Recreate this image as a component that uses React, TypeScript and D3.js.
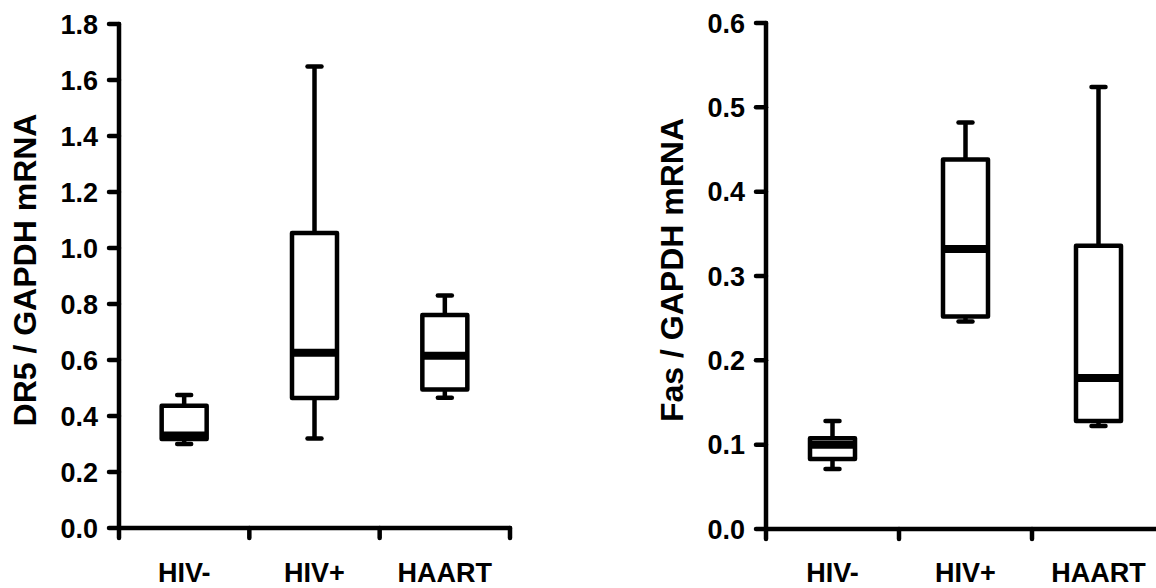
import React, { useEffect, useRef } from 'react';
import * as d3 from 'd3';

const categories = ['HIV-', 'HIV+', 'HAART'];

// DR5 / GAPDH panel: whisker low, Q1, median, Q3, whisker high
const dr5Min = [0.3, 0.32, 0.465];
const dr5Q1 = [0.318, 0.464, 0.495];
const dr5Median = [0.33, 0.626, 0.615];
const dr5Q3 = [0.437, 1.054, 0.761];
const dr5Max = [0.475, 1.648, 0.83];
const dr5Ticks = [0, 0.2, 0.4, 0.6, 0.8, 1.0, 1.2, 1.4, 1.6, 1.8];

// Fas / GAPDH panel
const fasMin = [0.071, 0.246, 0.122];
const fasQ1 = [0.083, 0.252, 0.128];
const fasMedian = [0.1, 0.332, 0.179];
const fasQ3 = [0.1076, 0.438, 0.336];
const fasMax = [0.128, 0.482, 0.524];
const fasTicks = [0, 0.1, 0.2, 0.3, 0.4, 0.5, 0.6];

interface Panel {
  label: string;
  mins: number[];
  q1s: number[];
  medians: number[];
  q3s: number[];
  maxs: number[];
  ticks: number[];
  yMax: number;
  x0: number;
  x1: number;
  yTop: number;
  yBottom: number;
  labelX: number;
}

const FONT = '"Liberation Sans", Arial, Helvetica, sans-serif';

function drawPanel(svg: d3.Selection<SVGSVGElement, unknown, null, undefined>, p: Panel) {
  const g = svg.append('g');
  const y = d3.scaleLinear().domain([0, p.yMax]).range([p.yBottom, p.yTop]);
  const x = d3.scaleBand<string>().domain(categories).range([p.x0, p.x1]);
  const boxW = 45;
  const sw = 4.5;

  // y axis
  g.append('line')
    .attr('x1', p.x0).attr('x2', p.x0)
    .attr('y1', y(p.yMax)).attr('y2', y(0))
    .attr('stroke', '#000').attr('stroke-width', sw).attr('stroke-linecap', 'round');

  const yt = g.selectAll('.yt').data(p.ticks).enter().append('g')
    .attr('transform', d => `translate(0,${y(d)})`);
  yt.append('line')
    .attr('x1', p.x0 - 10).attr('x2', p.x0)
    .attr('stroke', '#000').attr('stroke-width', sw).attr('stroke-linecap', 'round');
  yt.append('text')
    .attr('x', p.x0 - 21).attr('dy', '0.36em')
    .attr('text-anchor', 'end')
    .attr('font-family', FONT).attr('font-weight', 'bold').attr('font-size', 27)
    .text(d => d3.format('.1f')(d));

  // x axis
  g.append('line')
    .attr('x1', p.x0).attr('x2', p.x1)
    .attr('y1', y(0)).attr('y2', y(0))
    .attr('stroke', '#000').attr('stroke-width', sw).attr('stroke-linecap', 'round');

  const xTicks = [...categories.map(c => x(c)!), p.x1];
  g.selectAll('.xt').data(xTicks).enter().append('line')
    .attr('x1', d => d).attr('x2', d => d)
    .attr('y1', y(0)).attr('y2', y(0) + 10)
    .attr('stroke', '#000').attr('stroke-width', sw).attr('stroke-linecap', 'round');

  g.selectAll('.xl').data(categories).enter().append('text')
    .attr('x', d => x(d)! + x.bandwidth() / 2)
    .attr('y', 582)
    .attr('text-anchor', 'middle')
    .attr('font-family', FONT).attr('font-weight', 'bold').attr('font-size', 27)
    .text(d => d);

  // y label
  g.append('text')
    .attr('transform', `translate(${p.labelX},${(p.yTop + p.yBottom) / 2 - 6}) rotate(-90)`)
    .attr('text-anchor', 'middle')
    .attr('font-family', FONT).attr('font-weight', 'bold').attr('font-size', 32)
    .text(p.label);

  // boxes
  const boxes = g.selectAll('.box').data(categories).enter().append('g')
    .attr('transform', d => `translate(${x(d)! + x.bandwidth() / 2},0)`);

  boxes.append('line')
    .attr('y1', (_, i) => y(p.q3s[i])).attr('y2', (_, i) => y(p.maxs[i]))
    .attr('stroke', '#000').attr('stroke-width', sw);
  boxes.append('line')
    .attr('y1', (_, i) => y(p.q1s[i])).attr('y2', (_, i) => y(p.mins[i]))
    .attr('stroke', '#000').attr('stroke-width', sw);
  boxes.append('line')
    .attr('x1', -7).attr('x2', 7)
    .attr('y1', (_, i) => y(p.maxs[i])).attr('y2', (_, i) => y(p.maxs[i]))
    .attr('stroke', '#000').attr('stroke-width', sw).attr('stroke-linecap', 'round');
  boxes.append('line')
    .attr('x1', -7).attr('x2', 7)
    .attr('y1', (_, i) => y(p.mins[i])).attr('y2', (_, i) => y(p.mins[i]))
    .attr('stroke', '#000').attr('stroke-width', sw).attr('stroke-linecap', 'round');
  boxes.append('rect')
    .attr('x', -boxW / 2).attr('width', boxW)
    .attr('y', (_, i) => y(p.q3s[i]))
    .attr('height', (_, i) => y(p.q1s[i]) - y(p.q3s[i]))
    .attr('fill', '#fff').attr('stroke', '#000').attr('stroke-width', sw)
    .attr('stroke-linejoin', 'round');
  boxes.append('line')
    .attr('x1', -boxW / 2).attr('x2', boxW / 2)
    .attr('y1', (_, i) => y(p.medians[i])).attr('y2', (_, i) => y(p.medians[i]))
    .attr('stroke', '#000').attr('stroke-width', 8);
}

export default function App() {
  const svgRef = useRef<SVGSVGElement>(null);

  useEffect(() => {
    if (!svgRef.current) return;
    const svg = d3.select(svgRef.current);
    svg.selectAll('*').remove();

    drawPanel(svg, {
      label: 'DR5 / GAPDH mRNA',
      mins: dr5Min, q1s: dr5Q1, medians: dr5Median, q3s: dr5Q3, maxs: dr5Max,
      ticks: dr5Ticks, yMax: 1.8,
      x0: 119, x1: 510, yTop: 24, yBottom: 528, labelX: 36,
    });
    drawPanel(svg, {
      label: 'Fas / GAPDH mRNA',
      mins: fasMin, q1s: fasQ1, medians: fasMedian, q3s: fasQ3, maxs: fasMax,
      ticks: fasTicks, yMax: 0.6,
      x0: 766, x1: 1165, yTop: 23, yBottom: 529, labelX: 683,
    });
  }, []);

  return (
    <div style={{ position: 'absolute', left: 0, top: 0 }}>
      <svg ref={svgRef} width={1156} height={588} style={{ display: 'block', background: '#fff' }} />
    </div>
  );
}
